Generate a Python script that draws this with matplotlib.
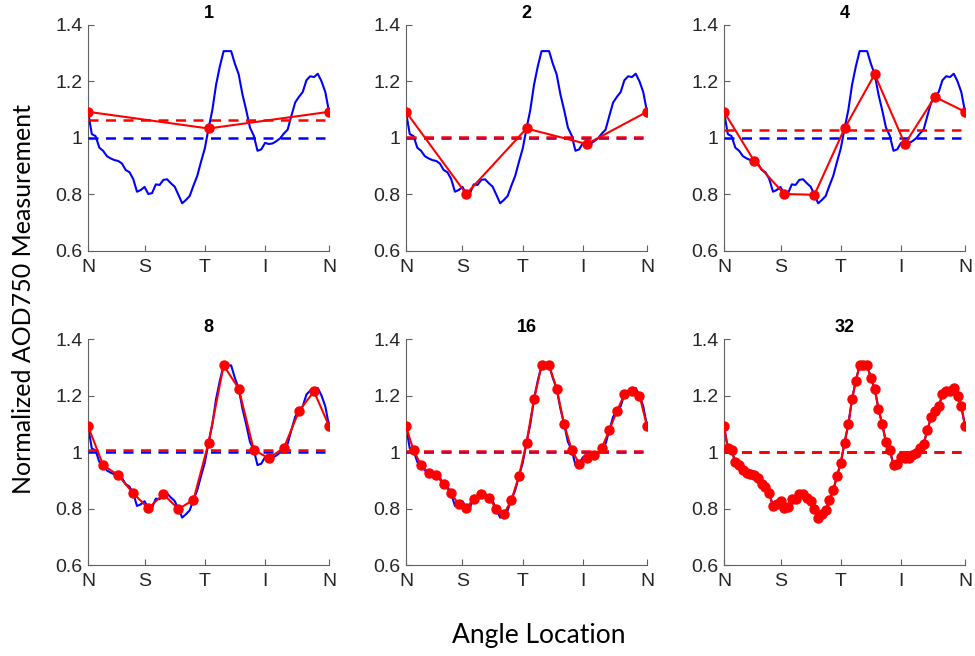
import numpy as np
import matplotlib
matplotlib.use("Agg")
import matplotlib.pyplot as plt

# Full-resolution profile (65 samples, last = wrap to N)
profile = [1.092, 1.013, 1.006, 0.965, 0.954, 0.935, 0.927, 0.921, 0.918, 0.909,
           0.886, 0.878, 0.854, 0.809, 0.815, 0.826, 0.801, 0.804, 0.835, 0.833,
           0.851, 0.853, 0.839, 0.827, 0.798, 0.768, 0.780, 0.794, 0.831, 0.865,
           0.915, 0.962, 1.033, 1.098, 1.188, 1.253, 1.307, 1.307, 1.307, 1.262,
           1.225, 1.154, 1.098, 1.036, 1.008, 0.954, 0.959, 0.982, 0.978, 0.980,
           0.988, 0.998, 1.015, 1.029, 1.078, 1.125, 1.145, 1.162, 1.204, 1.218,
           1.215, 1.227, 1.200, 1.162, 1.092]
panel_titles = ["1", "2", "4", "8", "16", "32"]
sample_counts = [1, 2, 4, 8, 16, 32]
blue_mean = 1.0
red_means = [1.063, 1.003, 1.028, 1.008, 1.005, 1.0]
xtick_pos = [0, 15, 31, 47, 64]
xtick_labels = ["N", "S", "T", "I", "N"]
yticks = [0.6, 0.8, 1.0, 1.2, 1.4]
ytick_labels = ["0.6", "0.8", "1", "1.2", "1.4"]

prof = np.array(profile)
x_full = np.arange(len(prof))
n_full = len(prof) - 1

fig = plt.figure(figsize=(9.75, 6.56), dpi=100)
lefts = [0.0903, 0.4164, 0.7426]
bottoms = [0.6178, 0.1387]
w, h = 0.2472, 0.3443

tick_font = "Liberation Sans"
for i, (title, n) in enumerate(zip(panel_titles, sample_counts)):
    r, c = divmod(i, 3)
    ax = fig.add_axes([lefts[c], bottoms[r], w, h])
    step = max(1, n_full // (2 * n))
    xs = x_full[::step]
    ys = prof[::step]
    ax.plot(x_full, prof, color="#0000ff", lw=1.5, zorder=2)
    ax.plot(xs, ys, color="#ff0000", lw=1.5, marker="o", ms=6.5,
            markerfacecolor="#ff0000", markeredgecolor="#ff0000", zorder=4)
    ax.plot([0, n_full - 1], [blue_mean, blue_mean], color="#0000ff", lw=1.8,
            ls=(0, (4, 3)), zorder=3)
    ax.plot([0, n_full - 1], [red_means[i], red_means[i]], color="#ff0000", lw=1.8,
            ls=(0, (4, 3)), zorder=3)
    ax.set_xlim(0, n_full)
    ax.set_ylim(0.6, 1.4)
    ax.set_xticks(xtick_pos)
    ax.set_xticklabels(xtick_labels, fontsize=14, fontfamily=tick_font, color="#262626")
    ax.set_yticks(yticks)
    ax.set_yticklabels(ytick_labels, fontsize=14, fontfamily=tick_font, color="#262626")
    ax.tick_params(direction="in", length=4, color="#606060", width=0.8)
    ax.tick_params(axis="x", pad=6)
    ax.tick_params(axis="y", pad=4)
    for s in ["top", "right"]:
        ax.spines[s].set_visible(False)
    for s in ["left", "bottom"]:
        ax.spines[s].set_color("#606060")
        ax.spines[s].set_linewidth(0.8)
    ax.set_title(title, fontsize=13, fontweight="bold", fontfamily=tick_font, pad=5)

fig.text(0.024, 0.544, "Normalized AOD750 Measurement", rotation=90, ha="center",
         va="center", fontsize=18, fontfamily="Lato")
fig.text(0.553, 0.032, "Angle Location", ha="center", va="center", fontsize=19,
         fontfamily="Lato")

fig.savefig("out.png", dpi=100)
